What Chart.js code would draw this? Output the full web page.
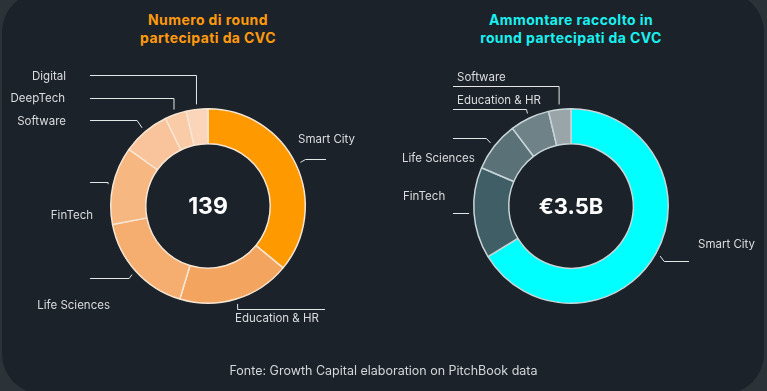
<!DOCTYPE html>
<html>
<head>
<meta charset="utf-8">
<script src="https://cdn.jsdelivr.net/npm/chart.js@4.4.0/dist/chart.umd.min.js"></script>
<style>
  html, body { margin: 0; padding: 0; }
  body { width: 767px; height: 391px; background: #2b3238; position: relative; overflow: hidden; font-family: Inter, "Noto Sans", sans-serif; }
  .panel { position: absolute; left: 2px; top: -8px; width: 762px; height: 402px; border-radius: 40px; background: #1c2229; }
  canvas { position: absolute; left: 0; top: 0; }
  .title { position: absolute; width: 300px; text-align: center; font-weight: 700; font-size: 14px; line-height: 18px; letter-spacing: 0.4px; }
  .footer { position: absolute; left: 0; width: 767px; top: 363px; text-align: center; color: #d3d7da; font-size: 12.5px; }
</style>
</head>
<body>
<div class="panel"></div>
<div class="title" style="left:58px; top:11px; color:#ff9a0d;">Numero di round<br>partecipati da CVC</div>
<div class="title" style="left:421px; top:11px; color:#19f0f0;">Ammontare raccolto in<br>round partecipati da CVC</div>
<canvas id="leftChart" width="767" height="391"></canvas>
<canvas id="rightChart" width="767" height="391"></canvas>
<div class="footer">Fonte: Growth Capital elaboration on PitchBook data</div>
<script>
// Numero di round partecipati da CVC (tot. 139)
const leftCategories = ['Smart City', 'Education & HR', 'Life Sciences', 'FinTech', 'Software', 'DeepTech', 'Digital'];
const leftValues = [50, 26, 24, 18, 11, 5, 5];
const leftTotalLabel = '139';

// Ammontare raccolto (miliardi di euro, tot. 3.5)
const rightCategories = ['Smart City', 'FinTech', 'Life Sciences', 'Education & HR', 'Software'];
const rightValues = [2.32, 0.53, 0.29, 0.23, 0.13];
const rightTotalLabel = '€3.5B';

const leftColors = ['#ff9900', '#f3a45f', '#f5ae6f', '#f7b780', '#f9c49b', '#facba7', '#fbd5ba'];
const rightColors = ['#00ffff', '#3f5e66', '#5a7177', '#6f8287', '#9aa5aa'];

// label placement: y of the horizontal leader, its far end, elbow shift, text anchor
const leftLayout = [
  { lineY: 159, endX: 326, elbow: 5, tx: 298, ty: 140, align: 'left' },
  { lineY: 309, endX: 325, elbow: 0, tx: 235, ty: 319, align: 'left' },
  { lineY: 278, endX: 90, elbow: -3, tx: 110, ty: 306, align: 'right' },
  { lineY: 182, endX: 90, elbow: 0, tx: 93, ty: 216, align: 'right' },
  { lineY: 120, endX: 90, elbow: -5, tx: 66, ty: 122, align: 'right' },
  { lineY: 98, endX: 90, elbow: 0, tx: 65, ty: 99, align: 'right' },
  { lineY: 75, endX: 90, elbow: 0, tx: 66, ty: 77, align: 'right' }
];
const rightLayout = [
  { lineY: 261, endX: 689, elbow: 4, tx: 698, ty: 245, align: 'left' },
  { lineY: 213, endX: 453, elbow: 0, tx: 403, ty: 197, align: 'left' },
  { lineY: 138, endX: 453, elbow: -4, tx: 402, ty: 159, align: 'left' },
  { lineY: 109, endX: 453, elbow: -1, tx: 457, ty: 101, align: 'left' },
  { lineY: 86, endX: 453, elbow: 0, tx: 457, ty: 78, align: 'left' }
];

const leaderLabels = {
  id: 'leaderLabels',
  afterDraw(chart, args, opts) {
    const ctx = chart.ctx;
    const arcs = chart.getDatasetMeta(0).data;
    const labels = chart.data.labels;
    ctx.save();
    ctx.strokeStyle = '#e4e6e8';
    ctx.lineWidth = 1;
    ctx.fillStyle = '#d9dcdf';
    ctx.font = '11.5px Inter, "Noto Sans", sans-serif';
    ctx.textBaseline = 'middle';
    arcs.forEach((arc, i) => {
      const l = opts.layout[i];
      const mid = (arc.startAngle + arc.endAngle) / 2;
      const r = arc.outerRadius + 5;
      const ax = arc.x + r * Math.cos(mid);
      const ay = arc.y + r * Math.sin(mid);
      ctx.beginPath();
      ctx.moveTo(ax, ay);
      ctx.lineTo(ax + l.elbow, l.lineY + 0.5);
      ctx.lineTo(l.endX, l.lineY + 0.5);
      ctx.stroke();
      ctx.textAlign = l.align;
      ctx.fillText(labels[i], l.tx, l.ty);
    });
    // total in the middle
    const a = arcs[0];
    ctx.fillStyle = '#ffffff';
    ctx.font = 'bold ' + opts.centerSize + 'px Inter, "Noto Sans", sans-serif';
    ctx.textAlign = 'center';
    ctx.fillText(opts.center, a.x, a.y + 1);
    ctx.restore();
  }
};

function makeDonut(id, labels, values, colors, border, padLeft, padRight, layout, center, centerSize) {
  return new Chart(document.getElementById(id), {
    type: 'doughnut',
    data: {
      labels: labels,
      datasets: [{
        data: values,
        backgroundColor: colors,
        borderColor: border,
        borderWidth: 1.5
      }]
    },
    options: {
      responsive: false,
      animation: false,
      cutout: '64%',
      layout: { padding: { left: padLeft, right: padRight, top: 108, bottom: 87 } },
      events: [],
      plugins: {
        legend: { display: false },
        tooltip: { enabled: false },
        leaderLabels: { layout: layout, center: center, centerSize: centerSize }
      }
    },
    plugins: [leaderLabels]
  });
}

makeDonut('leftChart', leftCategories, leftValues, leftColors, '#f7e6d4', 110, 461, leftLayout, leftTotalLabel, 23);
makeDonut('rightChart', rightCategories, rightValues, rightColors, '#c8d6d9', 473, 98, rightLayout, rightTotalLabel, 22);
</script>
</body>
</html>
